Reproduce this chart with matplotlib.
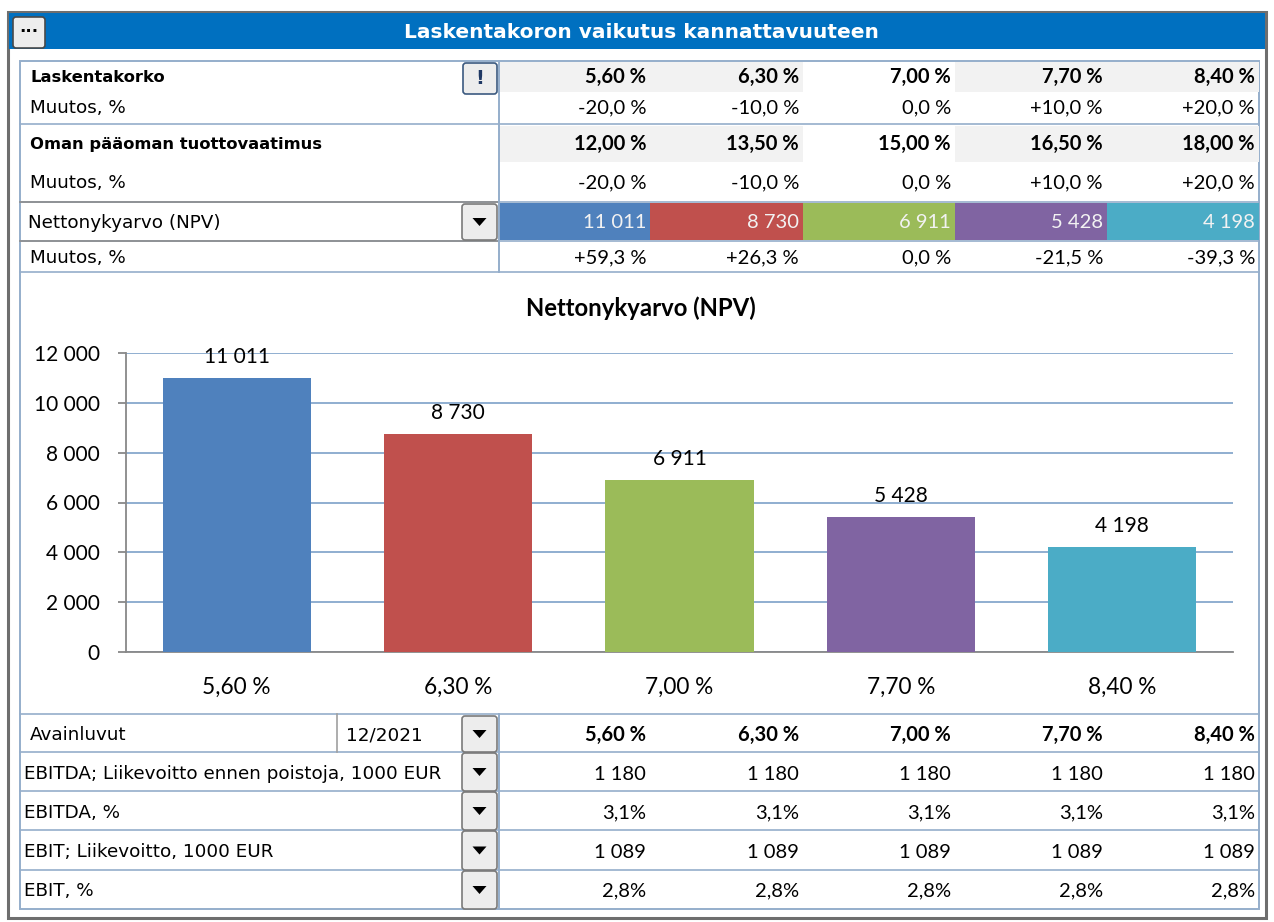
import matplotlib
matplotlib.use("Agg")
import matplotlib.pyplot as plt
from matplotlib.patches import Rectangle, FancyBboxPatch, Polygon

TITLE = "Laskentakoron vaikutus kannattavuuteen"
CHART_TITLE = "Nettonykyarvo (NPV)"

rates = ["5,60 %", "6,30 %", "7,00 %", "7,70 %", "8,40 %"]
rate_change = ["-20,0 %", "-10,0 %", "0,0 %", "+10,0 %", "+20,0 %"]
equity_req = ["12,00 %", "13,50 %", "15,00 %", "16,50 %", "18,00 %"]
equity_change = ["-20,0 %", "-10,0 %", "0,0 %", "+10,0 %", "+20,0 %"]
npv = [11011, 8730, 6911, 5428, 4198]
npv_change = ["+59,3 %", "+26,3 %", "0,0 %", "-21,5 %", "-39,3 %"]
bar_colors = ["#4F81BD", "#C0504D", "#9BBB59", "#8064A2", "#4BACC6"]

key_period = "12/2021"
key_labels = [
    "EBITDA; Liikevoitto ennen poistoja, 1000 EUR",
    "EBITDA, %",
    "EBIT; Liikevoitto, 1000 EUR",
    "EBIT, %",
]
key_values = [
    ["1 180", "1 180", "1 180", "1 180", "1 180"],
    ["3,1%", "3,1%", "3,1%", "3,1%", "3,1%"],
    ["1 089", "1 089", "1 089", "1 089", "1 089"],
    ["2,8%", "2,8%", "2,8%", "2,8%", "2,8%"],
]

W, H = 1274, 922
LBL = "DejaVu Sans"
NUM = "Lato"
GRID_BLUE = "#8FAED0"
LINE = "#95AECB"
AXIS_GRAY = "#888888"
LBL_SIZE = 13.2
BOLD_SIZE = 11.8
NUM_SIZE = 14.5


def fmt(v):
    return f"{v:,}".replace(",", " ")


def button(ax, x0, y0, x1, y1, edge="#6B6B6B"):
    ax.add_patch(FancyBboxPatch((x0 + 2, y0 + 2), x1 - x0 - 4, y1 - y0 - 4,
                                boxstyle="round,pad=2,rounding_size=3",
                                facecolor="#EDEDED", edgecolor=edge, linewidth=1.2, zorder=5))


def dropdown(ax, x0, y0, x1, y1):
    button(ax, x0, y0, x1, y1, edge="#7A7A7A")
    cx, cy = (x0 + x1) / 2, (y0 + y1) / 2
    ax.add_patch(Polygon([[cx - 7, cy - 4], [cx + 7, cy - 4], [cx, cy + 4]],
                         closed=True, facecolor="black", edgecolor="none", zorder=6))


fig = plt.figure(figsize=(W / 100, H / 100), dpi=100)
fig.patch.set_facecolor("white")
ui = fig.add_axes([0, 0, 1, 1])
ui.set_xlim(0, W)
ui.set_ylim(H, 0)
ui.axis("off")

# outer frame + title bar
ui.add_patch(Rectangle((8, 12), 1258, 906, facecolor="white", edgecolor="#6E6E6E", linewidth=2.2))
ui.add_patch(Rectangle((9, 13), 1256, 36, facecolor="#0070C0", edgecolor="none"))
ui.text(641, 32, TITLE, color="white", fontsize=14.5, fontweight="bold", family=LBL,
        ha="center", va="center")
button(ui, 13, 17, 45, 48, edge="#4A4A4A")
ui.text(29, 32, "···", fontsize=12, fontweight="bold", ha="center", va="center", zorder=7)

# inner frame
ui.add_patch(Rectangle((20, 61), 1239, 848, facecolor="none", edgecolor=LINE, linewidth=1.4))

col_l = [499, 650, 803, 955, 1107]
col_r = [650, 803, 955, 1107, 1259]
tx = [r - 4 for r in col_r]

# shaded bold rows (base column left white)
for y0, y1 in [(62, 92), (126, 162)]:
    for i in [0, 1, 3, 4]:
        ui.add_patch(Rectangle((col_l[i], y0), col_r[i] - col_l[i], y1 - y0,
                               facecolor="#F2F2F2", edgecolor="none"))

# npv colored cells
for i in range(5):
    ui.add_patch(Rectangle((col_l[i], 203), col_r[i] - col_l[i], 37,
                           facecolor=bar_colors[i], edgecolor="none"))

for y in [124, 202, 241, 272, 714, 752, 791, 830, 870]:
    ui.plot([20, 1259], [y, y], color=LINE, linewidth=1.2)
ui.plot([20, 499], [202, 202], color="#8C8C8C", linewidth=1.2)
ui.plot([20, 499], [241, 241], color="#8C8C8C", linewidth=1.2)
ui.plot([499, 499], [61, 272], color=LINE, linewidth=1.4)
ui.plot([499, 499], [714, 909], color=LINE, linewidth=1.4)
ui.plot([337, 337], [714, 752], color="#A0A0A0", linewidth=1.2)

# top table text
rows = [
    (77, "Laskentakorko", rates, True),
    (108, "Muutos, %", rate_change, False),
    (144, "Oman pääoman tuottovaatimus", equity_req, True),
    (183, "Muutos, %", equity_change, False),
    (258, "Muutos, %", npv_change, False),
]
for y, label, vals, bold in rows:
    ui.text(30, y, label, fontsize=BOLD_SIZE if bold else LBL_SIZE,
            fontweight="bold" if bold else "normal", family=LBL, ha="left", va="center")
    for i, v in enumerate(vals):
        ui.text(tx[i], y, v, fontsize=NUM_SIZE, fontweight="bold" if bold else "normal",
                family=NUM, ha="right", va="center")

ui.text(28, 223, "Nettonykyarvo (NPV)", fontsize=LBL_SIZE, family=LBL, ha="left", va="center")
for i, v in enumerate(npv):
    ui.text(tx[i], 222, fmt(v), fontsize=NUM_SIZE, family=NUM, color="#F2F2F2",
            ha="right", va="center")

button(ui, 463, 63, 497, 94, edge="#3C5A80")
ui.text(480, 78, "!", fontsize=14, fontweight="bold", color="#1F3864",
        ha="center", va="center", zorder=7)
dropdown(ui, 462, 204, 497, 240)

# bottom key-figure table
ui.text(30, 735, "Avainluvut", fontsize=LBL_SIZE, family=LBL, ha="left", va="center")
ui.text(346, 735, key_period, fontsize=LBL_SIZE, family=LBL, ha="left", va="center")
dropdown(ui, 462, 716, 497, 752)
for i, v in enumerate(rates):
    ui.text(tx[i], 735, v, fontsize=NUM_SIZE, fontweight="bold", family=NUM, ha="right", va="center")
row_y = [774, 813, 852, 891]
row_edges = [(753, 791), (792, 830), (831, 870), (871, 909)]
for k, label in enumerate(key_labels):
    ui.text(24, row_y[k], label, fontsize=LBL_SIZE, family=LBL, ha="left", va="center")
    dropdown(ui, 462, row_edges[k][0], 497, row_edges[k][1])
    for i, v in enumerate(key_values[k]):
        ui.text(tx[i], row_y[k], v, fontsize=NUM_SIZE, family=NUM, ha="right", va="center")

# bar chart
ui.text(641, 308, CHART_TITLE, fontsize=17.2, fontweight="bold", family=NUM,
        ha="center", va="center")
ax = fig.add_axes([126 / W, 1 - 652 / H, (1233 - 126) / W, (652 - 353) / H])
x = list(range(len(npv)))
ax.bar(x, npv, width=0.67, color=bar_colors, zorder=3)
for i, v in enumerate(npv):
    ax.annotate(fmt(v), (i, v), xytext=(0, 8), textcoords="offset points",
                ha="center", va="bottom", fontsize=15, family=NUM)
ax.set_xlim(-0.5, 4.5)
ax.set_ylim(0, 12000)
ax.set_yticks(range(0, 12001, 2000))
ax.set_yticklabels([fmt(v) for v in range(0, 12001, 2000)], fontsize=15, family=NUM)
ax.set_xticks(x)
ax.set_xticklabels(rates, fontsize=16.3, family=NUM)
ax.tick_params(axis="x", length=0, pad=18)
ax.tick_params(axis="y", length=6, color=AXIS_GRAY, width=1.3, pad=13)
ax.grid(axis="y", color=GRID_BLUE, linewidth=1.4, zorder=0)
for side in ["top", "right"]:
    ax.spines[side].set_visible(False)
for side in ["left", "bottom"]:
    ax.spines[side].set_color(AXIS_GRAY)
    ax.spines[side].set_linewidth(1.3)
ax.set_facecolor("none")

fig.savefig("out.png", dpi=100)
